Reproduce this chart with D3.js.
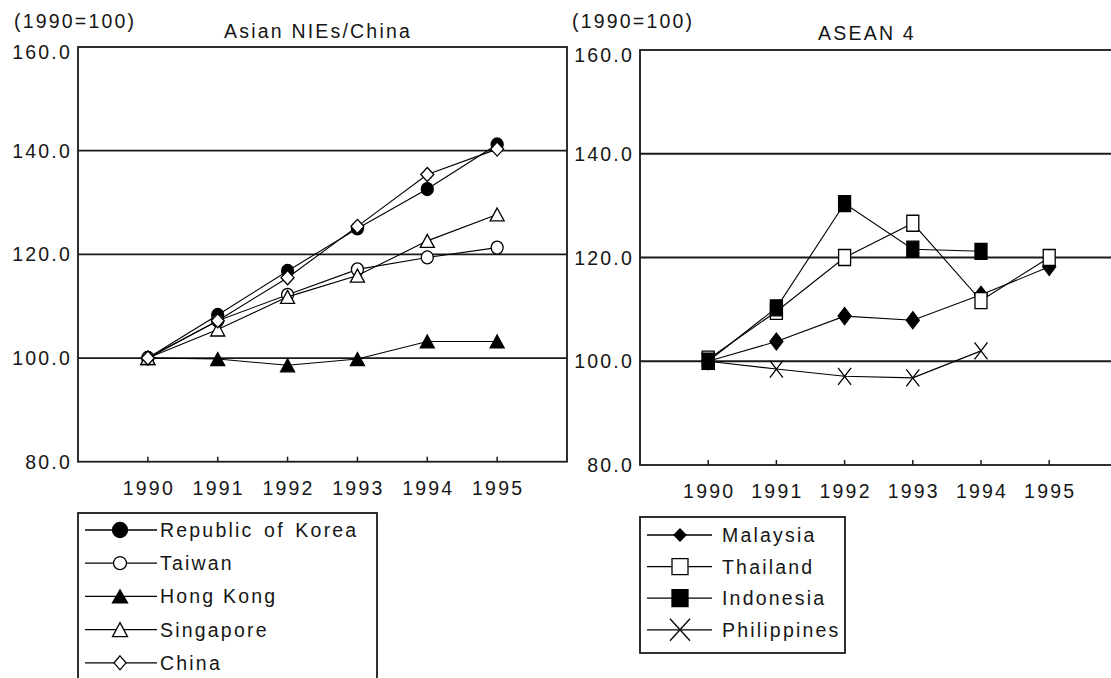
<!DOCTYPE html>
<html>
<head>
<meta charset="utf-8">
<script src="https://cdn.jsdelivr.net/npm/d3@7"></script>
<style>
  html, body { margin: 0; padding: 0; background: #fff; }
  svg { display: block; }
  text { font-family: "Liberation Sans", Arial, Helvetica, sans-serif; font-size: 19.5px; letter-spacing: 2.2px; fill: #161616; }
</style>
</head>
<body>
<svg id="chart" width="1111" height="678"></svg>
<script>
// ---------------- data ----------------
const years = [1990, 1991, 1992, 1993, 1994, 1995];
const yTicks = [80, 100, 120, 140, 160];
const yTickLabels = ["80.0", "100.0", "120.0", "140.0", "160.0"];
const unitLabel = "(1990=100)";

const leftTitle = "Asian NIEs/China";
const korea     = [100, 108.3, 116.8, 125.0, 132.6, 141.2];
const taiwan    = [100, 107.2, 112.2, 117.1, 119.4, 121.3];
const hongKong  = [100, 99.8, 98.6, 99.8, 103.2, 103.2];
const singapore = [100, 105.5, 111.8, 115.9, 122.6, 127.7];
const china     = [100, 107.2, 115.5, 125.4, 135.4, 140.3];

const rightTitle  = "ASEAN 4";
const malaysia    = [100, 103.8, 108.7, 107.9, 112.8, 118.2];
const thailand    = [100.4, 109.6, 120.0, 126.6, 111.7, 120.0];
const indonesia   = [100, 110.3, 130.4, 121.6, 121.2, null];
const philippines = [100, 98.5, 97.1, 96.8, 102.0, null];

// ---------------- setup ----------------
const svg = d3.select("#chart");

function markerPath(shape, w, h) {
  const rx = w / 2, ry = h / 2;
  switch (shape) {
    case "circle":
      return `M${-rx},0 a${rx},${ry} 0 1,0 ${2 * rx},0 a${rx},${ry} 0 1,0 ${-2 * rx},0Z`;
    case "square":
      return `M${-rx},${-ry} H${rx} V${ry} H${-rx} Z`;
    case "triangle":
      return `M0,${-ry} L${rx},${ry} L${-rx},${ry} Z`;
    case "diamond":
      return `M0,${-ry} L${rx},0 L0,${ry} L${-rx},0 Z`;
    case "x":
      return `M${-rx},${-ry} L${rx},${ry} M${rx},${-ry} L${-rx},${ry}`;
  }
}

function drawMarker(g, shape, filled, w, h, x, y) {
  g.append("path")
    .attr("d", markerPath(shape, w, h))
    .attr("transform", `translate(${x},${y})`)
    .attr("fill", shape === "x" ? "none" : (filled ? "#000" : "#fff"))
    .attr("stroke", "#000")
    .attr("stroke-width", 1.3);
}

function panel(cfg) {
  const g = svg.append("g");
  const x = d3.scaleLinear().domain([1989, 1996]).range([cfg.x0, cfg.x1]);
  const y = d3.scaleLinear().domain([80, 160]).range([cfg.yBot, cfg.yTop]);

  // frame & gridlines
  const frameRight = Math.min(cfg.x1, 1111);
  g.append("rect")
    .attr("x", cfg.x0).attr("y", cfg.yTop)
    .attr("width", cfg.x1 - cfg.x0).attr("height", cfg.yBot - cfg.yTop)
    .attr("fill", "none").attr("stroke", "#1a1a1a").attr("stroke-width", 1.8);
  g.selectAll("line.grid")
    .data(yTicks.filter(v => v > 80 && v < 160))
    .enter().append("line")
    .attr("x1", cfg.x0).attr("x2", frameRight)
    .attr("y1", d => y(d)).attr("y2", d => y(d))
    .attr("stroke", "#1a1a1a").attr("stroke-width", 1.8);

  // y tick labels
  g.selectAll("text.ylab")
    .data(yTicks)
    .enter().append("text")
    .attr("x", cfg.x0 - 6)
    .attr("y", d => y(d) + (d === 160 ? 5 : 0))
    .attr("text-anchor", "end")
    .attr("dominant-baseline", "central")
    .text((d, i) => yTickLabels[i]);

  // x ticks (inside, upward) and labels
  g.selectAll("line.xtick")
    .data(years)
    .enter().append("line")
    .attr("x1", d => x(d)).attr("x2", d => x(d))
    .attr("y1", cfg.yBot).attr("y2", cfg.yBot - 5)
    .attr("stroke", "#1a1a1a").attr("stroke-width", 1.5);
  g.selectAll("text.xlab")
    .data(years)
    .enter().append("text")
    .attr("x", d => x(d) + 1)
    .attr("y", cfg.yBot + 26)
    .attr("text-anchor", "middle")
    .attr("dominant-baseline", "central")
    .text(d => d);

  // titles
  g.append("text").attr("x", cfg.unitX).attr("y", cfg.unitY)
    .attr("dominant-baseline", "central").text(unitLabel);
  g.append("text").attr("x", cfg.titleX).attr("y", cfg.titleY)
    .attr("text-anchor", "middle").attr("dominant-baseline", "central").text(cfg.title);

  // series
  const line = d3.line()
    .defined(d => d.v != null)
    .x(d => x(d.year)).y(d => y(d.v));
  cfg.series.forEach(s => {
    const pts = years.map((yr, i) => ({ year: yr, v: s.values[i] }));
    g.append("path")
      .attr("d", line(pts))
      .attr("fill", "none").attr("stroke", "#000").attr("stroke-width", 1.1);
    pts.filter(p => p.v != null).forEach(p =>
      drawMarker(g, s.shape, s.filled, s.w, s.h, x(p.year), y(p.v)));
  });

  // legend
  const L = cfg.legend;
  g.append("rect")
    .attr("x", L.x).attr("y", L.y).attr("width", L.w).attr("height", L.h)
    .attr("fill", "none").attr("stroke", "#1a1a1a").attr("stroke-width", 1.8);
  cfg.series.forEach((s, i) => {
    const ry = L.rowY + i * L.step;
    g.append("line")
      .attr("x1", L.lineX1).attr("x2", L.lineX2).attr("y1", ry).attr("y2", ry)
      .attr("stroke", "#000").attr("stroke-width", 1.3);
    drawMarker(g, s.shape, s.filled, s.lw, s.lh, L.markX, ry);
    const t = g.append("text").attr("x", L.textX).attr("y", ry)
      .attr("dominant-baseline", "central").style("word-spacing", s.ws || "0px").text(s.name);
  });
}

panel({
  x0: 78, x1: 567, yTop: 47, yBot: 461.7,
  unitX: 14, unitY: 21, title: leftTitle, titleX: 318, titleY: 31,
  series: [
    { name: "Republic of Korea", values: korea,     shape: "circle",   filled: true,  w: 12, h: 13, lw: 15, lh: 15, ws: "3px" },
    { name: "Taiwan",            values: taiwan,    shape: "circle",   filled: false, w: 12, h: 13, lw: 13, lh: 13 },
    { name: "Hong Kong",         values: hongKong,  shape: "triangle", filled: true,  w: 14, h: 13, lw: 15, lh: 13 },
    { name: "Singapore",         values: singapore, shape: "triangle", filled: false, w: 14, h: 13, lw: 15, lh: 14 },
    { name: "China",             values: china,     shape: "diamond",  filled: false, w: 13, h: 14, lw: 12, lh: 14 }
  ],
  legend: { x: 78, y: 513, w: 299, h: 200, rowY: 530, step: 33.2,
            lineX1: 85, lineX2: 157, markX: 120, textX: 160 }
});

panel({
  x0: 640, x1: 1117.4, yTop: 50, yBot: 465,
  unitX: 572, unitY: 21, title: rightTitle, titleX: 867, titleY: 33,
  series: [
    { name: "Malaysia",    values: malaysia,    shape: "diamond", filled: true,  w: 13, h: 17, lw: 12, lh: 12 },
    { name: "Thailand",    values: thailand,    shape: "square",  filled: false, w: 12, h: 16, lw: 16, lh: 16 },
    { name: "Indonesia",   values: indonesia,   shape: "square",  filled: true,  w: 12, h: 16, lw: 16, lh: 17 },
    { name: "Philippines", values: philippines, shape: "x",       filled: false, w: 13, h: 17, lw: 20, lh: 22 }
  ],
  legend: { x: 640, y: 517, w: 205, h: 136, rowY: 535, step: 31.6,
            lineX1: 647, lineX2: 712, markX: 680, textX: 722 }
});
</script>
</body>
</html>
